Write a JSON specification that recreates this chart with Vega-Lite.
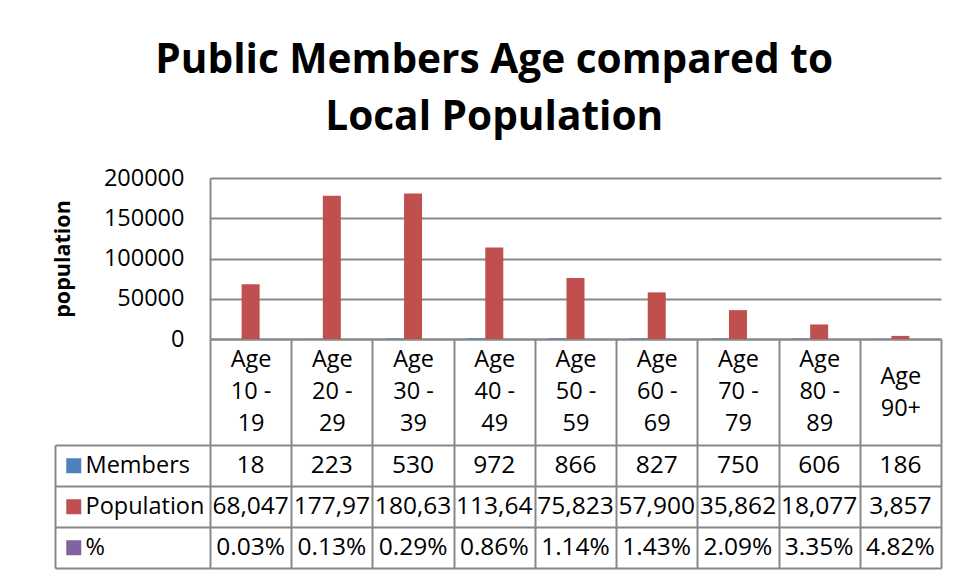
{
  "$schema": "https://vega.github.io/schema/vega-lite/v6.json",
  "padding": {"left": 52, "top": 41, "right": 10, "bottom": 5},
  "background": "white",
  "title": {
    "text": ["Public Members Age compared to", "Local Population"],
    "font": "Open Sans",
    "fontSize": 40.6,
    "fontWeight": "bold",
    "lineHeight": 57,
    "anchor": "middle",
    "color": "black",
    "offset": 27,
    "dx": -3
  },
  "data": {
    "values": [
      {"age": "Age 10 - 19", "series": "Members", "value": 18},
      {"age": "Age 20 - 29", "series": "Members", "value": 223},
      {"age": "Age 30 - 39", "series": "Members", "value": 530},
      {"age": "Age 40 - 49", "series": "Members", "value": 972},
      {"age": "Age 50 - 59", "series": "Members", "value": 866},
      {"age": "Age 60 - 69", "series": "Members", "value": 827},
      {"age": "Age 70 - 79", "series": "Members", "value": 750},
      {"age": "Age 80 - 89", "series": "Members", "value": 606},
      {"age": "Age 90+", "series": "Members", "value": 186},
      {"age": "Age 10 - 19", "series": "Population", "value": 68047},
      {"age": "Age 20 - 29", "series": "Population", "value": 177970},
      {"age": "Age 30 - 39", "series": "Population", "value": 180630},
      {"age": "Age 40 - 49", "series": "Population", "value": 113640},
      {"age": "Age 50 - 59", "series": "Population", "value": 75823},
      {"age": "Age 60 - 69", "series": "Population", "value": 57900},
      {"age": "Age 70 - 79", "series": "Population", "value": 35862},
      {"age": "Age 80 - 89", "series": "Population", "value": 18077},
      {"age": "Age 90+", "series": "Population", "value": 3857},
      {"age": "Age 10 - 19", "series": "%", "value": 0.0003},
      {"age": "Age 20 - 29", "series": "%", "value": 0.0013},
      {"age": "Age 30 - 39", "series": "%", "value": 0.0029},
      {"age": "Age 40 - 49", "series": "%", "value": 0.0086},
      {"age": "Age 50 - 59", "series": "%", "value": 0.0114},
      {"age": "Age 60 - 69", "series": "%", "value": 0.0143},
      {"age": "Age 70 - 79", "series": "%", "value": 0.0209},
      {"age": "Age 80 - 89", "series": "%", "value": 0.0335},
      {"age": "Age 90+", "series": "%", "value": 0.0482}
    ]
  },
  "bounds": "flush",
  "spacing": 106,
  "vconcat": [
    {
      "width": 731,
      "height": 161,
      "mark": {"type": "bar"},
      "encoding": {
        "x": {
          "field": "age", "type": "nominal", "sort": null,
          "scale": {"paddingInner": 0, "paddingOuter": 0},
          "axis": {
            "title": null, "orient": "bottom", "tickBand": "extent", "tickSize": 106,
            "labelPadding": {"condition": {"test": "datum.label == 'Age 90+'", "value": -69}, "value": -86},
            "labelBaseline": "middle", "labelAngle": 0, "labelAlign": "center",
            "labelLineHeight": 32, "grid": false,
            "labelExpr": "isValid(datum.label) && datum.label != '' ? (datum.label == 'Age 90+' ? ['Age', '90+'] : ['Age', substring(datum.label, 4, 8), substring(datum.label, 9)]) : ''"
          }
        },
        "xOffset": {
          "field": "series", "type": "nominal", "sort": ["Members", "Population", "%"],
          "scale": {"paddingOuter": 0.755, "paddingInner": 0}
        },
        "y": {
          "field": "value", "type": "quantitative", "title": "population",
          "scale": {"domain": [0, 200000]},
          "axis": {
            "values": [0, 50000, 100000, 150000, 200000], "format": "d", "ticks": false,
            "labelPadding": 26, "grid": true, "domain": true,
            "titleFontSize": 21.5, "titleFontWeight": "bold", "titlePadding": 29, "titleColor": "black", "titleFont": "Open Sans"
          }
        },
        "color": {
          "field": "series", "type": "nominal",
          "scale": {"domain": ["Members", "Population", "%"], "range": ["#4F81BD", "#C0504D", "#8064A2"]},
          "legend": {
            "orient": "none", "legendX": -148, "legendY": 276, "title": null,
            "symbolType": "square", "symbolSize": 225, "symbolStrokeWidth": 0,
            "labelFontSize": 23.5, "labelFont": "Open Sans", "labelColor": "black",
            "rowPadding": 16, "labelOffset": 0, "padding": 0
          }
        }
      }
    },
    {
      "width": 731,
      "height": 123,
      "mark": {"type": "text", "fontSize": 24.5, "limit": 79, "ellipsis": "\u200b", "color": "black", "font": "Open Sans"},
      "encoding": {
        "x": {
          "field": "age", "type": "nominal", "sort": null,
          "scale": {"paddingInner": 0, "paddingOuter": 0},
          "axis": {"title": null, "orient": "bottom", "grid": true, "tickBand": "extent", "labels": false, "ticks": false, "domain": false}
        },
        "y": {
          "field": "series", "type": "nominal", "sort": ["Members", "Population", "%"],
          "scale": {"paddingInner": 0, "paddingOuter": 0},
          "axis": {"title": null, "offset": 155, "tickSize": -155, "tickBand": "extent", "grid": true, "labels": false, "domain": true}
        },
        "text": {
          "condition": {"test": "datum.series === '%'", "field": "value", "type": "quantitative", "format": ".2%"},
          "field": "value", "type": "quantitative", "format": ","
        }
      }
    }
  ],
  "config": {
    "view": {"stroke": null},
    "font": "Open Sans",
    "axis": {
      "gridColor": "#888888", "gridWidth": 2, "gridOpacity": 1,
      "domainColor": "#888888", "domainWidth": 2,
      "tickColor": "#888888", "tickWidth": 2,
      "labelColor": "black", "labelFont": "Open Sans", "labelFontSize": 23.5
    }
  }
}
